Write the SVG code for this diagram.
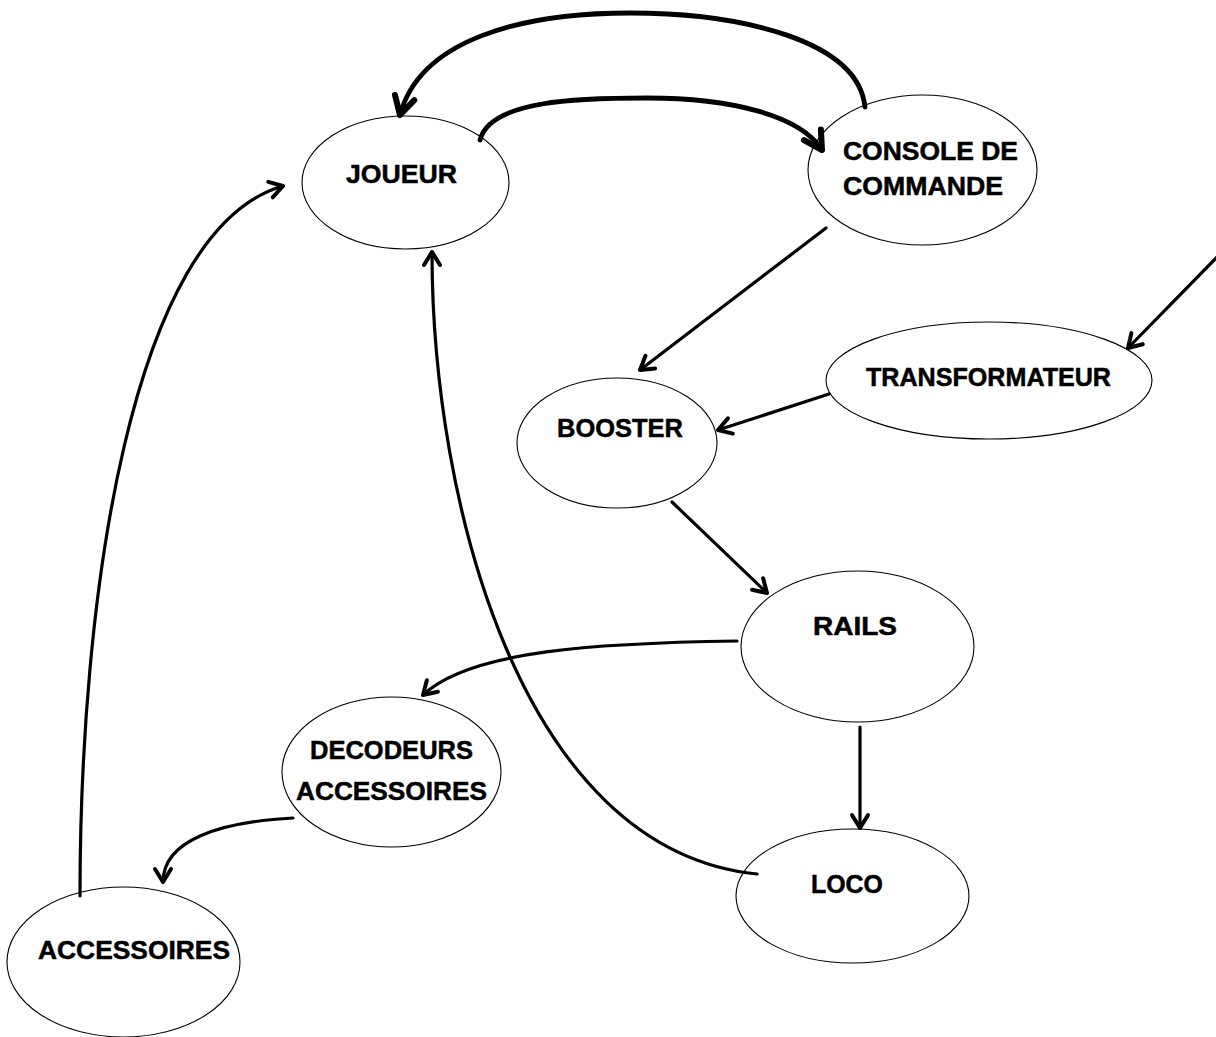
<svg xmlns="http://www.w3.org/2000/svg" width="1216" height="1037" viewBox="0 0 1216 1037">
<style>
.node{fill:#fff;stroke:#000;stroke-width:1.1}
.lbl{font-family:"Liberation Sans",Arial,sans-serif;font-weight:bold;font-size:26px;fill:#000;stroke:#000;stroke-width:0.5}
.c{fill:none;stroke:#000;stroke-width:3.2;stroke-linecap:round}
.cb{fill:none;stroke:#000;stroke-width:4.8;stroke-linecap:round}
</style>
<defs>
<marker id="ah" markerUnits="userSpaceOnUse" orient="auto" refX="0" refY="0" markerWidth="40" markerHeight="40" viewBox="-20 -20 40 40" overflow="visible">
<path d="M-13,-8 L0,0 L-13,8" fill="none" stroke="#000" stroke-width="4" stroke-linecap="round" stroke-linejoin="round"/>
</marker>
<marker id="ahb" markerUnits="userSpaceOnUse" orient="auto" refX="0" refY="0" markerWidth="50" markerHeight="50" viewBox="-25 -25 50 50" overflow="visible">
<path d="M-18,-10 L0,0 L-18,10" fill="none" stroke="#000" stroke-width="6" stroke-linecap="round" stroke-linejoin="round"/>
</marker>
</defs>
<rect width="1216" height="1037" fill="#fff"/>
<g id="n-joueur"><ellipse class="node" cx="405.5" cy="182.5" rx="103.5" ry="66.5"/><text class="lbl" x="346" y="183" textLength="111" lengthAdjust="spacingAndGlyphs">JOUEUR</text></g>
<g id="n-console"><ellipse class="node" cx="922.5" cy="170" rx="114.5" ry="75"/><text class="lbl" x="843" y="160" textLength="175" lengthAdjust="spacingAndGlyphs">CONSOLE DE</text><text class="lbl" x="843" y="195" textLength="160" lengthAdjust="spacingAndGlyphs">COMMANDE</text></g>
<g id="n-transfo"><ellipse class="node" cx="989" cy="380.5" rx="163" ry="58.5"/><text class="lbl" x="866" y="386" textLength="245" lengthAdjust="spacingAndGlyphs">TRANSFORMATEUR</text></g>
<g id="n-booster"><ellipse class="node" cx="617" cy="443" rx="100" ry="65"/><text class="lbl" x="557" y="437" textLength="126" lengthAdjust="spacingAndGlyphs">BOOSTER</text></g>
<g id="n-rails"><ellipse class="node" cx="857.5" cy="646.5" rx="116.5" ry="75.5"/><text class="lbl" x="813" y="635" textLength="84" lengthAdjust="spacingAndGlyphs">RAILS</text></g>
<g id="n-loco"><ellipse class="node" cx="852.5" cy="896" rx="116.5" ry="67"/><text class="lbl" x="811" y="893" textLength="72" lengthAdjust="spacingAndGlyphs">LOCO</text></g>
<g id="n-decodeurs"><ellipse class="node" cx="391.5" cy="772" rx="109.5" ry="75"/><text class="lbl" x="310" y="759" textLength="163" lengthAdjust="spacingAndGlyphs">DECODEURS</text><text class="lbl" x="296" y="800" textLength="191" lengthAdjust="spacingAndGlyphs">ACCESSOIRES</text></g>
<g id="n-accessoires"><ellipse class="node" cx="123.5" cy="962" rx="116.5" ry="75"/><text class="lbl" x="38" y="959" textLength="192" lengthAdjust="spacingAndGlyphs">ACCESSOIRES</text></g>
<g id="connectors">
<path class="cb" marker-end="url(#ahb)" d="M865,107 C858,40 740,13 630,13 C520,13 420,40 400,115"/>
<path class="cb" marker-end="url(#ahb)" d="M480,140 C490,100 580,98 647,98 C730,98 800,115 822,150"/>
<path class="c" marker-end="url(#ah)" d="M826,228 L640,370"/>
<path class="c" marker-end="url(#ah)" d="M1222,252 L1128,348"/>
<path class="c" marker-end="url(#ah)" d="M829,394 L718,430"/>
<path class="c" marker-end="url(#ah)" d="M672,502 L767,593"/>
<path class="c" marker-end="url(#ah)" d="M737,641 C600,643 470,650 423,695"/>
<path class="c" marker-end="url(#ah)" d="M860,727 L860,828"/>
<path class="c" marker-end="url(#ah)" d="M757,874 C520,850 432,500 432,252"/>
<path class="c" marker-end="url(#ah)" d="M293,818 C220,822 163,840 163,882"/>
<path class="c" marker-end="url(#ah)" d="M80,896 C80,600 130,230 283,186"/>
</g>
</svg>
